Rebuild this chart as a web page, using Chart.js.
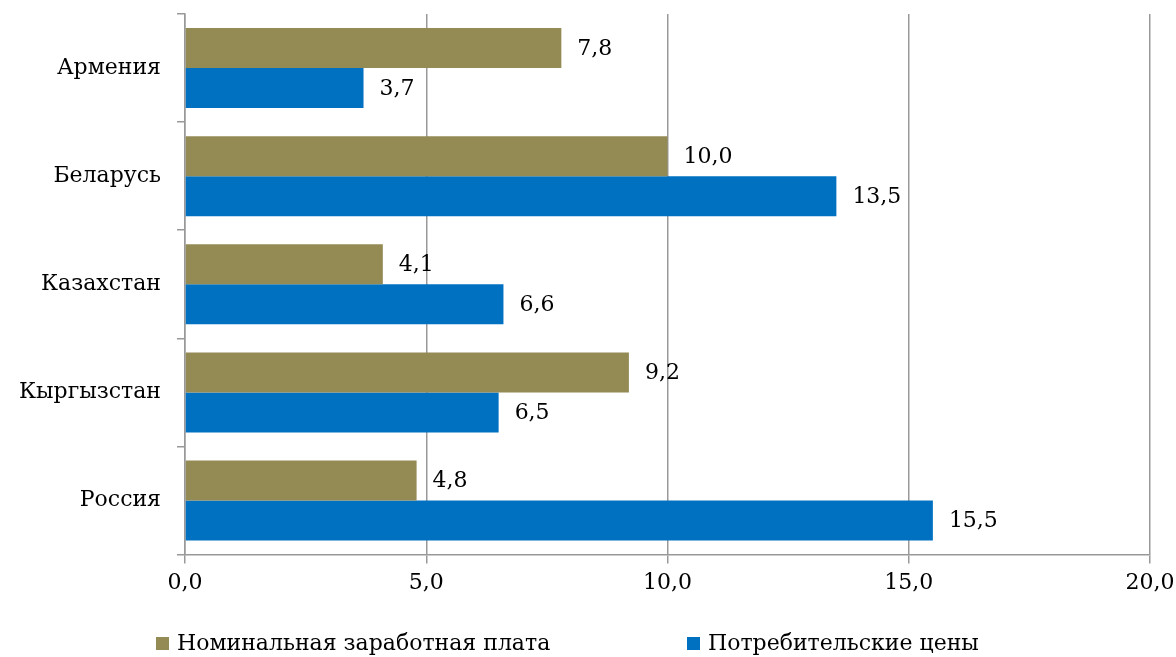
<!DOCTYPE html>
<html>
<head>
<meta charset="utf-8">
<script src="https://cdn.jsdelivr.net/npm/chart.js@4/dist/chart.umd.min.js"></script>
<style>
  html, body { margin: 0; padding: 0; background: #fff; }
  #wrap { width: 1176px; height: 657px; position: relative; }
</style>
</head>
<body>
<div id="wrap"><canvas id="chart"></canvas></div>
<script>
// data
const countries = ['Армения', 'Беларусь', 'Казахстан', 'Кыргызстан', 'Россия'];
const wageValues = [7.8, 10.0, 4.1, 9.2, 4.8];
const priceValues = [3.7, 13.5, 6.6, 6.5, 15.5];
const seriesNames = ['Номинальная заработная плата', 'Потребительские цены'];
const xTicks = [0, 5, 10, 15, 20];

const FONT = '"DejaVu Serif", "Liberation Serif", serif';
const SIZE = 22;
const fmt = v => v.toFixed(1).replace('.', ',');

// value labels to the right of each bar
const valueLabels = {
    id: 'valueLabels',
    afterDatasetsDraw(chart) {
        const ctx = chart.ctx;
        ctx.save();
        ctx.font = SIZE + 'px ' + FONT;
        ctx.fillStyle = '#000';
        ctx.textAlign = 'left';
        ctx.textBaseline = 'middle';
        chart.data.datasets.forEach((ds, i) => {
            chart.getDatasetMeta(i).data.forEach((bar, j) => {
                ctx.fillText(fmt(ds.data[j]), bar.x + 16, bar.y + 1);
            });
        });
        ctx.restore();
    }
};

// legend at the bottom, drawn by hand to get the wide spacing
const bottomLegend = {
    id: 'bottomLegend',
    afterDraw(chart, args, opts) {
        const ctx = chart.ctx;
        ctx.save();
        ctx.font = SIZE + 'px ' + FONT;
        ctx.textAlign = 'left';
        ctx.textBaseline = 'middle';
        chart.data.datasets.forEach((ds, i) => {
            const x = opts.starts[i];
            ctx.fillStyle = ds.backgroundColor;
            ctx.fillRect(x, opts.y - 6, 13, 13);
            ctx.fillStyle = '#000';
            ctx.fillText(ds.label, x + 21, opts.y + 1);
        });
        ctx.restore();
    }
};

new Chart(document.getElementById('chart'), {
    type: 'bar',
    data: {
        labels: countries,
        datasets: [
            { label: seriesNames[0], data: wageValues, backgroundColor: '#948A54' },
            { label: seriesNames[1], data: priceValues, backgroundColor: '#0070C0' }
        ]
    },
    options: {
        indexAxis: 'y',
        responsive: true,
        maintainAspectRatio: false,
        animation: false,
        layout: { padding: { top: 14, bottom: 55, left: 0, right: 0 } },
        datasets: { bar: { barPercentage: 1, categoryPercentage: 0.74 } },
        plugins: {
            legend: { display: false },
            tooltip: { enabled: false },
            bottomLegend: { starts: [156, 687], y: 643 }
        },
        scales: {
            x: {
                min: 0,
                max: 20,
                afterBuildTicks: s => { s.ticks = xTicks.map(v => ({ value: v })); },
                afterFit: s => { s.paddingRight = 26; },
                ticks: {
                    callback: v => fmt(v),
                    font: { family: FONT, size: SIZE },
                    color: '#000',
                    padding: 6,
                    maxRotation: 0
                },
                grid: { color: '#999', lineWidth: 1.5, tickLength: 9 },
                border: { color: '#999', width: 1.5 }
            },
            y: {
                afterFit: s => { s.width = 185; s.paddingTop = 0; s.paddingBottom = 0; },
                ticks: {
                    font: { family: FONT, size: SIZE },
                    color: '#000',
                    padding: 16
                },
                grid: { offset: true, drawOnChartArea: false, color: '#999', lineWidth: 1.5, tickLength: 8 },
                border: { color: '#999', width: 1.5 }
            }
        }
    },
    plugins: [valueLabels, bottomLegend]
});
</script>
</body>
</html>
